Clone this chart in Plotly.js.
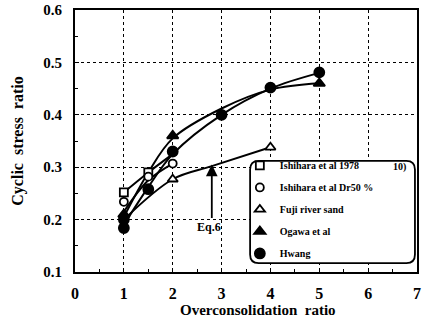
<!DOCTYPE html>
<html><head><meta charset="utf-8">
<script src="https://cdn.plot.ly/plotly-3.0.1.min.js"></script>
<style>html,body{margin:0;padding:0;background:#fff}#chart{width:425px;height:323px}</style>
</head><body><div id="chart"></div>
<script>
// Marker data
const sqX = [1, 1.5];            const sqY = [0.252, 0.29];
const ocX = [1, 1.5, 2];         const ocY = [0.234, 0.282, 0.307];
const otX = [2, 4];              const otY = [0.277, 0.338];
const ftX = [1, 2, 5];           const ftY = [0.21, 0.36, 0.46];
const fcX = [1, 1, 1.5, 2, 3, 4, 5];
const fcY = [0.184, 0.2, 0.258, 0.33, 0.4, 0.452, 0.481];
// Fitted curves
const ogawaCurveX = [1, 1.5, 2, 3, 4, 5];
const ogawaCurveY = [0.205, 0.29, 0.355, 0.412, 0.448, 0.46];
const hwangCurveX = [1, 1.5, 2, 3, 4, 5];
const hwangCurveY = [0.19, 0.262, 0.325, 0.4, 0.45, 0.48];
const fujiCurveX = [1, 2, 2.8, 4];
const fujiCurveY = [0.2, 0.277, 0.302, 0.338];
const ishiCurveX = [1, 1.5, 2];
const ishiCurveY = [0.252, 0.29, 0.325];
const ishi2CurveX = [1, 1.5, 2];
const ishi2CurveY = [0.215, 0.275, 0.307];
const names = ['Ishihara et al 1978', 'Ishihara et al Dr50 %', 'Fuji river sand', 'Ogawa et al', 'Hwang'];
const xTicks = [0, 1, 2, 3, 4, 5, 6, 7];
const yTicks = [0.1, 0.2, 0.3, 0.4, 0.5, 0.6];

const FAM = 'Liberation Serif';
const fnt = (s) => ({family: FAM, size: s, color: '#000', weight: 700});
const curve = (x, y) => ({x, y, mode: 'lines', type: 'scatter', line: {color: '#000', width: 2, shape: 'spline', smoothing: 1}, showlegend: false, hoverinfo: 'skip'});
const mk = (x, y, sym, fill, name, size, g) => ({x, y, mode: 'markers', type: 'scatter', name, legendgroup: g,
  marker: {symbol: sym, size: size, color: fill, line: {color: '#000', width: 1.8}}});

const data = [
  curve(ogawaCurveX, ogawaCurveY), curve(hwangCurveX, hwangCurveY), curve(fujiCurveX, fujiCurveY),
  curve(ishiCurveX, ishiCurveY), curve(ishi2CurveX, ishi2CurveY),
  mk(sqX, sqY, 'square', '#fff', names[0], 8, 'a'),
  mk(ocX, ocY, 'circle', '#fff', names[1], 8, 'b'),
  mk(otX, otY, 'triangle-up', '#fff', names[2], 9, 'c'),
  mk(ftX, ftY, 'triangle-up', '#000', names[3], 10, 'd'),
  mk(fcX, fcY, 'circle', '#000', names[4], 10, 'e')
];

// rounded legend frame (paper coordinates)
const bx0 = 0.512, bx1 = 0.994, by0 = 0.034, by1 = 0.424, rx = 0.025, ry = 0.033;
const framePath = `M ${bx0+rx},${by1} L ${bx1-rx},${by1} Q ${bx1},${by1} ${bx1},${by1-ry} L ${bx1},${by0+ry} Q ${bx1},${by0} ${bx1-rx},${by0} L ${bx0+rx},${by0} Q ${bx0},${by0} ${bx0},${by0+ry} L ${bx0},${by1-ry} Q ${bx0},${by1} ${bx0+rx},${by1} Z`;

const layout = {
  width: 425, height: 323,
  margin: {l: 75, r: 8, t: 10, b: 51},
  paper_bgcolor: '#fff', plot_bgcolor: '#fff',
  font: fnt(12),
  xaxis: {range: [0, 7], tickvals: xTicks, ticktext: xTicks.map(String), showgrid: true, gridcolor: '#000', griddash: 'dot', gridwidth: 1,
    zeroline: false, showline: true, mirror: true, linecolor: '#000', linewidth: 2, ticks: 'inside', ticklen: 4, tickcolor: '#000',
    minor: {dtick: 0.5, ticks: 'inside', ticklen: 3, tickcolor: '#000', showgrid: false},
    tickfont: fnt(16), ticklabelstandoff: 6},
  yaxis: {range: [0.1, 0.6], tickvals: yTicks, ticktext: yTicks.map(v => v.toFixed(1)), showgrid: true, gridcolor: '#000', griddash: 'dot', gridwidth: 1,
    zeroline: false, showline: true, mirror: true, linecolor: '#000', linewidth: 2, ticks: 'inside', ticklen: 4, tickcolor: '#000',
    minor: {dtick: 0.05, ticks: 'inside', ticklen: 3, tickcolor: '#000', showgrid: false},
    tickfont: fnt(15), ticklabelstandoff: 8,
    title: {text: 'Cyclic  stress  ratio', font: fnt(16), standoff: 16}},
  shapes: [{type: 'path', xref: 'paper', yref: 'paper', path: framePath, fillcolor: '#fff', line: {color: '#000', width: 1.8}, layer: 'above'}],
  legend: {x: 0.482, y: 0.462, xanchor: 'left', yanchor: 'top', bgcolor: 'rgba(0,0,0,0)', borderwidth: 0,
    font: fnt(10), itemwidth: 30, tracegroupgap: 3},
  annotations: [
    {x: 2.8, y: 0.305, ax: 2.8, ay: 0.2, xref: 'x', yref: 'y', axref: 'x', ayref: 'y', showarrow: true, arrowhead: 2, arrowsize: 1.3, arrowwidth: 1.8, arrowcolor: '#000', text: ''},
    {x: 2.75, y: 0.185, xref: 'x', yref: 'y', text: 'Eq.6', showarrow: false, font: fnt(12)},
    {x: 0.975, y: 0.43, xref: 'paper', yref: 'paper', xanchor: 'right', yanchor: 'top', text: '10)', showarrow: false, font: fnt(10)},
    {x: 0.535, y: -0.105, xref: 'paper', yref: 'paper', yanchor: 'top', text: 'Overconsolidation  ratio', showarrow: false, font: fnt(15)}
  ]
};
Plotly.newPlot('chart', data, layout, {displayModeBar: false, staticPlot: true});
</script></body></html>
